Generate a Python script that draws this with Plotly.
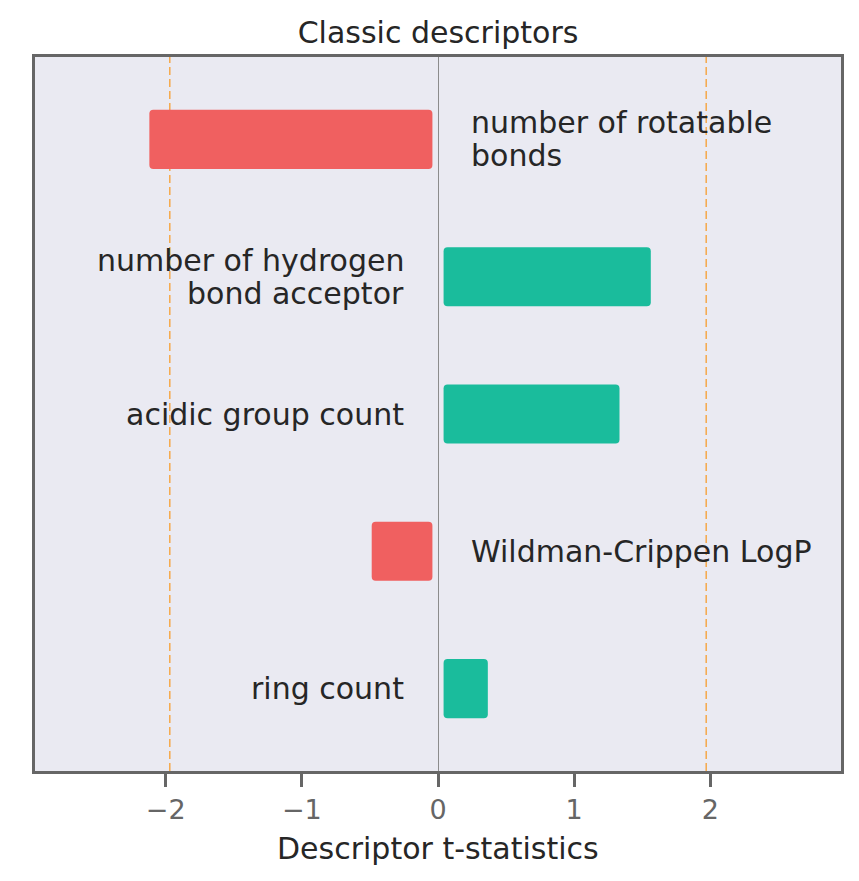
import plotly.graph_objects as go

# ---- data ----
descriptors = [
    "number of rotatable\nbonds",
    "number of hydrogen\nbond acceptor",
    "acidic group count",
    "Wildman-Crippen LogP",
    "ring count",
]
t_stats = [-2.12, 1.563, 1.333, -0.487, 0.366]
critical_t = 1.97

RED = "#F06060"
GREEN = "#1ABC9C"
FONT = "DejaVu Sans"
TXT = "#262626"
GAP = 0.041

positions = list(range(len(descriptors)))
bases = [GAP if v > 0 else -GAP for v in t_stats]
lengths = [v - b for v, b in zip(t_stats, bases)]
colors = [GREEN if v > 0 else RED for v in t_stats]

fig = go.Figure()
fig.add_trace(go.Bar(
    y=positions, x=lengths, base=bases, orientation="h",
    width=0.43, marker=dict(color=colors, line=dict(width=0)),
    hoverinfo="skip", showlegend=False,
))

# critical value dashed lines
for c in (-critical_t, critical_t):
    fig.add_shape(type="line", x0=c, x1=c, xref="x", y0=0, y1=1, yref="paper",
                  line=dict(color="#F5A84A", width=1.5, dash="8px,4px"), layer="below")

# category labels
annotations = []
LINE = 33
for pos, lab, v in zip(positions, descriptors, t_stats):
    lines = lab.split("\n")
    n = len(lines)
    for i, ln in enumerate(lines):
        annotations.append(dict(
            x=0.228 if v < 0 else -0.235, y=pos, xref="x", yref="y",
            text=ln, showarrow=False,
            xanchor="left" if v < 0 else "right", yanchor="middle",
            yshift=((n - 1) / 2 - i) * LINE,
            font=dict(family=FONT, size=30, color=TXT),
        ))

# x-axis title
annotations.append(dict(
    x=0.5, y=0, xref="paper", yref="paper", text="Descriptor t-statistics",
    showarrow=False, xanchor="center", yanchor="middle", yshift=-77,
    font=dict(family=FONT, size=30, color=TXT),
))

fig.update_layout(
    width=859, height=881,
    margin=dict(l=35, r=18, t=57, b=110),
    paper_bgcolor="white", plot_bgcolor="#EAEAF2",
    barcornerradius=4,
    title=dict(text="Classic descriptors", x=0.5, xanchor="center", xref="paper",
               y=1 - 32.5 / 881, yanchor="middle", yref="container",
               font=dict(family=FONT, size=30, color=TXT)),
    annotations=annotations,
    font=dict(family=FONT),
)
fig.update_xaxes(
    range=[-2.96, 2.96], tickvals=[-2, -1, 0, 1, 2],
    showgrid=False, zeroline=True, zerolinecolor="#8c8c8c", zerolinewidth=1,
    showline=True, mirror=True, linecolor="#666666", linewidth=3,
    ticks="outside", ticklen=13, tickwidth=2.5, tickcolor="#666666",
    tickfont=dict(family=FONT, size=27, color="#666666"),
)
fig.update_yaxes(
    range=[4.6, -0.6], showticklabels=False, showgrid=False, zeroline=False,
    showline=True, mirror=True, linecolor="#666666", linewidth=3, ticks="",
)

fig.write_html("out.html")
